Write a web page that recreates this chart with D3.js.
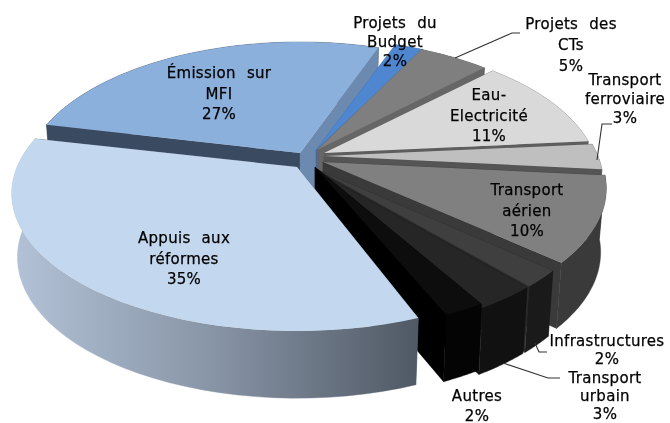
<!DOCTYPE html>
<html><head><meta charset="utf-8">
<script src="https://cdn.jsdelivr.net/npm/d3@7/dist/d3.min.js"></script>
<style>html,body{margin:0;background:#fff}svg{display:block}
text{font-family:"DejaVu Sans",sans-serif;font-size:15px;font-weight:400;fill:#000;stroke:#000;stroke-width:.25px;text-anchor:middle;letter-spacing:.3px;word-spacing:6px;filter:url(#soft)}</style>
</head><body><svg id="c" width="670" height="423"></svg>
<script>
// data
const categories = ["Projets du Budget","Projets des CTs","Eau-Electricité","Transport ferroviaire","Transport aérien","Infrastructures","Transport urbain","Autres","Appuis aux réformes","Émission sur MFI"];
const values = [2,5,11,3,10,2,3,2,35,27];
const labelLines = [["Projets du","Budget","2%"],["Projets des","CTs","5%"],["Eau-","Electricité","11%"],["Transport","ferroviaire","3%"],["Transport","aérien","10%"],["Infrastructures","2%"],["Transport","urbain","3%"],["Autres","2%"],["Appuis aux","réformes","35%"],["Émission sur","MFI","27%"]];

// styles
const topColors = ["#4f86d0","#7f7f7f","#d9d9d9","#bfbfbf","#808080","#3f3f3f","#262626","#0d0d0d","#c3d8ee","#8cb0dc"];
const cutColors = ["#3f6ca8","#666666","#5e5e5e","#555555","#3a3a3a","#2a2a2a","#151515","#000000","#5a6a7e","#3a4a60"];
const endCutColors = {9:"#6c8aaf"};
const wallFills = ["#3f6ca8","#555555","#777777","#666666","#3a3a3a","#1a1a1a","#111111","#040404","url(#gAppuis)","#3a4a60"];

// layout
const RY = 132.4, P = 0.1926, DEPTH = 63, BASE_SHRINK = 0.98;
const radii = [274,268,270,274,278,274,274,274,280,271];
const apexX = [316,317,324,324,323,318,316,315,297,300];
const apexY = [150,150,153,156,162,170,171,167,167,153];
const startTrim = [0,0,0,0,0,0,0,0,2.4,0];
const labelX = [395,571,489,625,527,607,605,477,184,219];
const labelY = [28,29,100,85,195,346,383,401,243,78];
const lineGaps = [19,21,20.5,19,20.5,17.5,18,19.5,20.5,20.5];
const leaders = [
  {i:1,pts:[[455,58],[512,33],[520,33]]},
  {i:3,pts:[[597,160],[602,124],[612,124]]},
  {i:5,pts:[[535,343],[539,352],[547,352]]},
  {i:6,pts:[[503,363],[548,378],[560,378]]}
];

const svg = d3.select("#c");
const defs = svg.append("defs");
defs.append("filter").attr("id","soft").append("feGaussianBlur").attr("stdDeviation",0.35);
const g = defs.append("linearGradient").attr("id","gAppuis").attr("gradientUnits","userSpaceOnUse")
  .attr("x1",12).attr("x2",420).attr("y1",0).attr("y2",0);
g.append("stop").attr("offset",0).attr("stop-color","#b3c2d6");
g.append("stop").attr("offset",0.5).attr("stop-color","#8794a6");
g.append("stop").attr("offset",1).attr("stop-color","#4f5864");

const rad = d => d*Math.PI/180;
const pie = d3.pie().sort(null).startAngle(rad(20)).endAngle(rad(380));
const arcs = pie(values);
const line = d3.line();

// disc point at angle t, relative to slice apex; z = lower face
function proj(i,t,z){
  const u=Math.sin(t), v=Math.cos(t), s=1/(1+P*v);
  const dx=radii[i]*u*s*(z?BASE_SHRINK:1);
  return [apexX[i]+dx, apexY[i]-RY*v*s+(z?DEPTH*Math.pow(s,0.3):0)];
}

const order=[9,0,1,2,3,4,5,6,7,8];
order.forEach(i=>{
  const a0=arcs[i].startAngle+rad(startTrim[i]), a1=arcs[i].endAngle;
  const ts=d3.range(0,41).map(k=>a0+(a1-a0)*k/40);
  const A=[apexX[i],apexY[i]], Ab=[A[0],A[1]+DEPTH];
  const gr=svg.append("g").attr("class","slice");
  const wall=(t,c)=>gr.append("path").attr("d",line([A,proj(i,t,0),proj(i,t,1),Ab])+"Z").attr("fill",c).attr("stroke",c).attr("stroke-width",.4);
  const onRight=t=>Math.sin(t)>0;
  // walls hidden behind the slice's own top go first
  if(onRight(a0)) wall(a0,cutColors[i]);
  if(!onRight(a1)) wall(a1,cutColors[i]);
  gr.append("path").attr("d",line(ts.map(t=>proj(i,t,0)).concat(ts.slice().reverse().map(t=>proj(i,t,1))))+"Z")
    .attr("fill",wallFills[i]).attr("stroke",wallFills[i]).attr("stroke-width",.4);
  if(!onRight(a0)) wall(a0,cutColors[i]);
  if(onRight(a1)) wall(a1,endCutColors[i]||cutColors[i]);
  gr.append("path").attr("d",line([A].concat(ts.map(t=>proj(i,t,0))))+"Z").attr("fill",topColors[i]);
});

leaders.forEach(l=>svg.append("path").attr("d",line(l.pts)).attr("fill","none").attr("stroke","#333").attr("stroke-width",1.1));

labelLines.forEach((ls,i)=>{
  const t=svg.append("text").attr("aria-label",categories[i]);
  ls.forEach((s,k)=>t.append("tspan").attr("x",labelX[i]).attr("y",labelY[i]+k*lineGaps[i]).text(s));
});
</script></body></html>
